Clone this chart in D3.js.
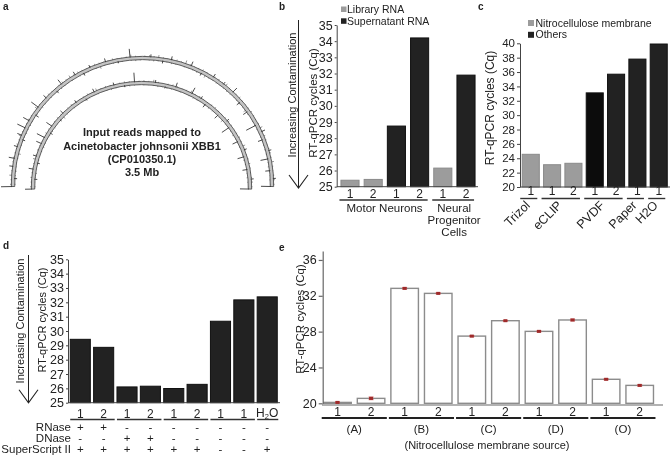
<!DOCTYPE html>
<html><head><meta charset="utf-8">
<script src="https://cdn.jsdelivr.net/npm/d3@7"></script>
<style>body{margin:0;background:#fff}svg{display:block;will-change:transform}text{font-family:"Liberation Sans",Arial,Helvetica,sans-serif}</style>
</head><body>
<svg id="c" width="671" height="456"></svg>
<script>
// ---------- data ----------
// panel a: coverage spikes along genome arcs [position 0..1, signed length]
const outerSpikes = [[0,12],[0.02,-4],[0.05,5],[0.07,7],[0.1,5],[0.12,-4],[0.13,6],[0.15,10],[0.17,8],[0.19,-5],[0.21,10],[0.24,5],[0.27,-4],[0.29,7],[0.33,5],[0.35,-4],[0.37,4],[0.41,5],[0.44,-3],[0.47,10],[0.52,4],[0.55,-4],[0.57,5],[0.62,6],[0.65,-4],[0.68,5],[0.71,4],[0.74,7],[0.77,-5],[0.8,-6],[0.84,-12],[0.86,5],[0.88,-6],[0.91,4],[0.93,-9],[0.96,-6],[0.98,4],[1.0,-11]];
const innerSpikes = [[0,8],[0.03,-4],[0.06,6],[0.08,-4],[0.1,5],[0.14,7],[0.16,10],[0.18,-4],[0.2,8],[0.23,-3],[0.25,5],[0.3,4],[0.33,-3],[0.36,5],[0.42,4],[0.45,-3],[0.48,11],[0.54,4],[0.57,-3],[0.6,6],[0.65,8],[0.68,4],[0.7,-5],[0.75,-6],[0.78,4],[0.8,-10],[0.85,-7],[0.88,4],[0.9,-8],[0.94,-6],[0.97,4],[1.0,-10]];
const outerFuzz = [3,-2,4,-3,2,-2,3,-4,2,3,-2,4,-3,2,-3,3,-2,2,4,-3,2,-2,3,-2,2,-3,3,-2,4,-2,3,-3,2,-2,3,-4,2,-2,3,-3,2,-2,4,-3,2,-2,3,-3,4,-2,2,-3,3,-2,5,-2,2,-3,3,-4,2,-2,3,-2,4,-3,2,-2,3,-3,2,-4,3,-2,2,-3,4,-2,3,-2,2,-3,3,-2,4,-3,2,-2,3,-2];
const innerFuzz = [3,-2,3,-3,2,-2,4,-2,3,-3,2,-2,3,-3,2,-2,3,-4,2,-2,3,-2,2,-3,3,-2,4,-2,3,-3,2,-2,3,-3,2,-2,3,-2,4,-3,2,-3,3,-2,2,-2,4,-3,3,-2,2,-3,3,-2,2,-4,3,-2,2,-3,3,-2,4,-2,2,-3,3,-2,2,-3,3,-2];
const aText = ["Input reads mapped to","Acinetobacter johnsonii XBB1","(CP010350.1)","3.5 Mb"];

// panel b
const bCategories = ["1","2","1","2","1","2"];
const bSeries = ["Library RNA","Library RNA","Supernatant RNA","Supernatant RNA","Library RNA","Supernatant RNA"];
const bValues = [25.4,25.45,28.75,34.2,26.15,31.9];
const bTicks = [25,26,27,28,29,30,31,32,33,34,35];
const bGroups = [{label:["Motor Neurons"],from:0,to:3},{label:["Neural","Progenitor","Cells"],from:4,to:5}];
const bLegend = ["Library RNA","Supernatant RNA"];

// panel c
const cCategories = ["1","1","2","1","2","1","1"];
const cSeries = ["Nitrocellulose membrane","Nitrocellulose membrane","Nitrocellulose membrane","Others","Others","Others","Others"];
const cValues = [24.55,23.1,23.3,33.1,35.7,37.8,39.9];
const cTicks = [20,22,24,26,28,30,32,34,36,38,40];
const cGroups = [{label:"Trizol",from:0,to:0},{label:"eCLIP",from:1,to:2},{label:"PVDF",from:3,to:4},{label:"Paper",from:5,to:5},{label:"H2O",from:6,to:6}];
const cLegend = ["Nitrocellulose membrane","Others"];

// panel d
const dCategories = ["1","2","1","2","1","2","1","1","H2O"];
const dValues = [29.42,28.86,26.1,26.15,25.99,26.28,30.68,32.17,32.38];
const dTicks = [25,26,27,28,29,30,31,32,33,34,35];
const dGroups = [[0,1],[2,3],[4,5],[6,7],[8,8]];
const dRowNames = ["RNase","DNase","SuperScript II"];
const dRNase = ["+","+","-","-","-","-","-","-","-"];
const dDNase = ["-","-","+","+","-","-","-","-","-"];
const dSuperScript = ["+","+","+","+","+","+","-","-","+"];

// panel e
const eCategories = ["1","2","1","2","1","2","1","2","1","2"];
const eValues = [20.1,20.55,32.83,32.27,27.5,29.22,28.03,29.3,22.68,22.0];
const eErrors = [0.05,0.15,0.08,0.05,0.07,0.03,0.06,0.1,0.06,0.08];
const eTicks = [20,24,28,32,36];
const eGroups = ["(A)","(B)","(C)","(D)","(O)"];
const eTitle = "(Nitrocellulose membrane source)";

// ---------- drawing ----------
const FONT = '"Liberation Sans", Arial, Helvetica, sans-serif';
const TXT = "#222";
const svg = d3.select("#c");

function txt(g, x, y, s, size, opts = {}) {
  const t = g.append("text").attr("x", x).attr("y", y).text(s)
    .attr("font-size", size).attr("font-family", FONT).attr("fill", opts.fill || TXT)
    .attr("text-anchor", opts.anchor || "middle");
  if (opts.weight) t.attr("font-weight", opts.weight);
  return t;
}
function vtxt(g, x, y, s, size) {
  return g.append("text").attr("transform", `translate(${x},${y}) rotate(-90)`)
    .attr("text-anchor", "middle").attr("dominant-baseline", "central")
    .attr("font-size", size).attr("font-family", FONT).attr("fill", TXT).text(s);
}
function yAxis(g, x, scale, ticks, size, color, tsize) {
  const ax = g.append("g").attr("transform", `translate(${x},0)`)
    .call(d3.axisLeft(scale).tickValues(ticks).tickSize(tsize).tickSizeOuter(0).tickPadding(2));
  ax.selectAll("text").attr("font-size", size).attr("font-family", FONT).attr("fill", TXT);
  ax.selectAll("path,line").attr("stroke", color);
  return ax;
}
function arrow(g, x, y0, y1) {
  g.append("line").attr("x1", x).attr("x2", x).attr("y1", y0).attr("y2", y1).attr("stroke", "#222").attr("stroke-width", 1);
  g.append("polyline").attr("points", `${x-9.5},${y1-13} ${x},${y1} ${x+9.5},${y1-13}`)
    .attr("fill", "none").attr("stroke", "#222").attr("stroke-width", 1.1);
}

// panel letters
[["a",3,10],["b",279,10],["c",478,10],["d",3,249],["e",279,251]].forEach(d =>
  txt(svg, d[1], d[2], d[0], 10, {anchor: "start", weight: "bold"}));

// ===== panel a =====
const gA = svg.append("g");
const rings = [
  {cx:142.5, cy:184, rx:129.5, ry:126, spikes:outerSpikes, fuzz:outerFuzz},
  {cx:141.5, cy:187, rx:108.5, ry:104, spikes:innerSpikes, fuzz:innerFuzz}
];
rings.forEach(r => {
  const g = gA.append("g").attr("transform", `translate(${r.cx},${r.cy}) scale(1,${r.ry/r.rx})`);
  const ang = d3.scaleLinear().domain([0,1]).range([-Math.PI/2 - 0.02, Math.PI/2 + 0.02]);
  const fz = d3.scaleLinear().domain([0, r.fuzz.length]).range([0,1]);
  r.fuzz.forEach((v, i) => {
    const a = ang(fz(i + 0.5)), s = Math.sin(a), c = -Math.cos(a);
    const r0 = v > 0 ? r.rx - 2.5 : r.rx + v, r1 = v > 0 ? r.rx + v : r.rx + 2.5;
    g.append("line").attr("x1", s*r0).attr("y1", c*r0).attr("x2", s*r1).attr("y2", c*r1)
      .attr("stroke", "#666").attr("stroke-width", 0.7);
  });
  g.append("path").attr("d", d3.arc()({innerRadius:r.rx-1.7, outerRadius:r.rx+1.7, startAngle:ang(0), endAngle:ang(1)}))
    .attr("fill", "#c4c4c4").attr("stroke", "#3a3a3a").attr("stroke-width", 0.8);
  r.spikes.forEach(([t, len]) => {
    const a = ang(t), s = Math.sin(a), c = -Math.cos(a);
    const r0 = len > 0 ? r.rx + 1 : r.rx + len, r1 = len > 0 ? r.rx + len : r.rx - 1;
    g.append("line").attr("x1", s*r0).attr("y1", c*r0).attr("x2", s*r1).attr("y2", c*r1)
      .attr("stroke", "#333").attr("stroke-width", 0.9);
  });
});
aText.forEach((s, i) => txt(gA, 142, [135.5, 149.5, 163, 175.7][i], s, 11, {weight: "bold"}));

// ===== panel b =====
const gB = svg.append("g");
const bx = d3.scaleBand().domain(d3.range(bValues.length)).range([338.4, 477.6]).paddingInner(0.22).paddingOuter(0.11);
const by = d3.scaleLinear().domain([25, 35]).range([186.7, 25]);
const bColor = d3.scaleOrdinal().domain(bLegend).range(["#9c9c9c", "#222"]);
const bStroke = d3.scaleOrdinal().domain(bLegend).range(["#8a8a8a", "#111"]);
gB.selectAll("rect.bar").data(bValues).join("rect").attr("class", "bar")
  .attr("x", (d, i) => bx(i)).attr("width", bx.bandwidth())
  .attr("y", d => by(d)).attr("height", d => by(25) - by(d))
  .attr("fill", (d, i) => bColor(bSeries[i])).attr("stroke", (d, i) => bStroke(bSeries[i])).attr("stroke-width", 1);
yAxis(gB, 336.7, by, bTicks, 12.5, "#444", 2);
gB.append("line").attr("x1", 336.7).attr("x2", 478).attr("y1", by(25)).attr("y2", by(25)).attr("stroke", "#444");
bCategories.forEach((c, i) => txt(gB, bx(i) + bx.bandwidth()/2, 197.5, c, 12));
bGroups.forEach(gr => {
  const x0 = bx(gr.from) - 1.5, x1 = bx(gr.to) + bx.bandwidth() - 1;
  gB.append("line").attr("x1", x0).attr("x2", x1).attr("y1", 200).attr("y2", 200).attr("stroke", "#333").attr("stroke-width", 1.4);
  gr.label.forEach((s, j) => txt(gB, (x0 + x1)/2 + 1, 212 + j*12, s, 11.5));
});
bLegend.forEach((s, i) => {
  gB.append("rect").attr("x", 341).attr("y", 6.5 + i*11.8).attr("width", 5.5).attr("height", 5.5).attr("fill", bColor(s));
  txt(gB, 347, 12.8 + i*11.8, s, 10.5, {anchor: "start"});
});
vtxt(gB, 291.7, 95, "Increasing Contamination", 11);
arrow(gB, 298.5, 20, 188);
vtxt(gB, 313, 103, "RT-qPCR cycles (Cq)", 11.5);

// ===== panel c =====
const gC = svg.append("g");
const cx = d3.scaleBand().domain(d3.range(cValues.length)).range([520.1, 669.4]).paddingInner(0.2).paddingOuter(0.1);
const cy = d3.scaleLinear().domain([20, 40]).range([187, 43.3]);
const cColor = d3.scaleOrdinal().domain(cLegend).range(["#9c9c9c", "#222"]);
gC.selectAll("rect.bar").data(cValues).join("rect").attr("class", "bar")
  .attr("x", (d, i) => cx(i)).attr("width", cx.bandwidth())
  .attr("y", d => cy(d)).attr("height", d => cy(20) - cy(d))
  .attr("fill", (d, i) => i === 3 ? "#0c0c0c" : cColor(cSeries[i]))
  .attr("stroke", (d, i) => cSeries[i] === "Others" ? "#111" : "#8a8a8a").attr("stroke-width", 1);
yAxis(gC, 520, cy, cTicks, 11.5, "#444", 3);
gC.append("line").attr("x1", 520).attr("x2", 670).attr("y1", cy(20)).attr("y2", cy(20)).attr("stroke", "#444");
cCategories.forEach((c, i) => txt(gC, cx(i) + cx.bandwidth()/2, 194.5, c, 12));
cGroups.forEach(gr => {
  const x0 = cx(gr.from) - 2, x1 = cx(gr.to) + cx.bandwidth() - 2;
  gC.append("line").attr("x1", x0).attr("x2", x1).attr("y1", 198.5).attr("y2", 198.5).attr("stroke", "#333").attr("stroke-width", 1.4);
  gC.append("text").attr("transform", `translate(${(x0 + x1)/2 + 2},206) rotate(-45)`)
    .attr("text-anchor", "end").attr("font-size", 12.5).attr("font-family", FONT).attr("fill", TXT).text(gr.label);
});
cLegend.forEach((s, i) => {
  gC.append("rect").attr("x", 528).attr("y", 20 + i*11.8).attr("width", 6).attr("height", 6).attr("fill", cColor(s));
  txt(gC, 535.5, 26.6 + i*11.8, s, 10.5, {anchor: "start"});
});
vtxt(gC, 490, 108, "RT-qPCR cycles (Cq)", 12);

// ===== panel d =====
const gD = svg.append("g");
const dx = d3.scaleBand().domain(d3.range(dValues.length)).range([68.6, 278.9]).paddingInner(0.14).paddingOuter(0.07);
const dy = d3.scaleLinear().domain([25, 35]).range([402.7, 259.3]);
gD.selectAll("rect.bar").data(dValues).join("rect").attr("class", "bar")
  .attr("x", (d, i) => dx(i)).attr("width", dx.bandwidth())
  .attr("y", d => dy(d)).attr("height", d => dy(25) - dy(d))
  .attr("fill", "#222").attr("stroke", "#111").attr("stroke-width", 1);
yAxis(gD, 68, dy, dTicks, 12.5, "#444", 2);
gD.append("line").attr("x1", 68).attr("x2", 280).attr("y1", dy(25)).attr("y2", dy(25)).attr("stroke", "#444");
dCategories.forEach((c, i) => {
  const x = dx(i) + dx.bandwidth()/2;
  if (c === "H2O") {
    const t = txt(gD, x, 417, "", 12);
    t.append("tspan").text("H");
    t.append("tspan").text("2").attr("font-size", 7.5).attr("dy", 2);
    t.append("tspan").text("O").attr("dy", -2);
  } else txt(gD, x, 417.5, c, 12);
});
dGroups.forEach(([a, b]) => {
  gD.append("line").attr("x1", dx(a)).attr("x2", dx(b) + dx.bandwidth() + 1).attr("y1", 419.5).attr("y2", 419.5)
    .attr("stroke", "#333").attr("stroke-width", 1.4);
});
[dRNase, dDNase, dSuperScript].forEach((row, r) => {
  const y = 430.5 + r*11.3;
  txt(gD, 71, y, dRowNames[r], 11.5, {anchor: "end"});
  row.forEach((s, i) => txt(gD, dx(i) + dx.bandwidth()/2, y, s, 11.5));
});
vtxt(gD, 20, 321, "Increasing Contamination", 11);
arrow(gD, 28.5, 255, 402.7);
vtxt(gD, 41.5, 320, "RT-qPCR cycles (Cq)", 11);

// ===== panel e =====
const gE = svg.append("g");
const ex = d3.scaleBand().domain(d3.range(eValues.length)).range([320.7, 656.5]).paddingInner(0.18).paddingOuter(0.09);
const ey = d3.scaleLinear().domain([20, 37]).range([403.3, 251]);
gE.selectAll("rect.bar").data(eValues).join("rect").attr("class", "bar")
  .attr("x", (d, i) => ex(i)).attr("width", ex.bandwidth())
  .attr("y", d => ey(d)).attr("height", d => ey(20) - ey(d))
  .attr("fill", "#fff").attr("stroke", "#8c8c8c").attr("stroke-width", 1.4);
eValues.forEach((v, i) => {
  const x = ex(i) + ex.bandwidth()/2;
  gE.append("line").attr("x1", x).attr("x2", x).attr("y1", ey(v + eErrors[i])).attr("y2", ey(v - eErrors[i])).attr("stroke", "#a33").attr("stroke-width", 1);
  [v + eErrors[i], v - eErrors[i]].forEach(w => gE.append("line").attr("x1", x - 2.5).attr("x2", x + 2.5).attr("y1", ey(w)).attr("y2", ey(w)).attr("stroke", "#c55").attr("stroke-width", 0.8));
  gE.append("rect").attr("x", x - 2).attr("y", ey(v) - 1.5).attr("width", 4).attr("height", 3).attr("fill", "#9e2a2a");
});
yAxis(gE, 322.7, ey, eTicks, 12.5, "#666", 4).selectAll("path,line").attr("stroke-width", 1.2);
gE.append("line").attr("x1", 322).attr("x2", 663).attr("y1", 405).attr("y2", 405).attr("stroke", "#666").attr("stroke-width", 1.2);
eCategories.forEach((c, i) => txt(gE, ex(i) + ex.bandwidth()/2, 416, c, 12));
eGroups.forEach((s, k) => {
  const x0 = ex(2*k) - 2, x1 = ex(2*k + 1) + ex.bandwidth() + 2;
  gE.append("line").attr("x1", x0).attr("x2", x1).attr("y1", 418).attr("y2", 418).attr("stroke", "#222").attr("stroke-width", 1.8);
  txt(gE, (x0 + x1)/2, 433, s, 11.5);
});
txt(gE, 487, 449, eTitle, 11);
vtxt(gE, 300, 319, "RT-qPCR cycles (Cq)", 11.5);
</script>
</body></html>
